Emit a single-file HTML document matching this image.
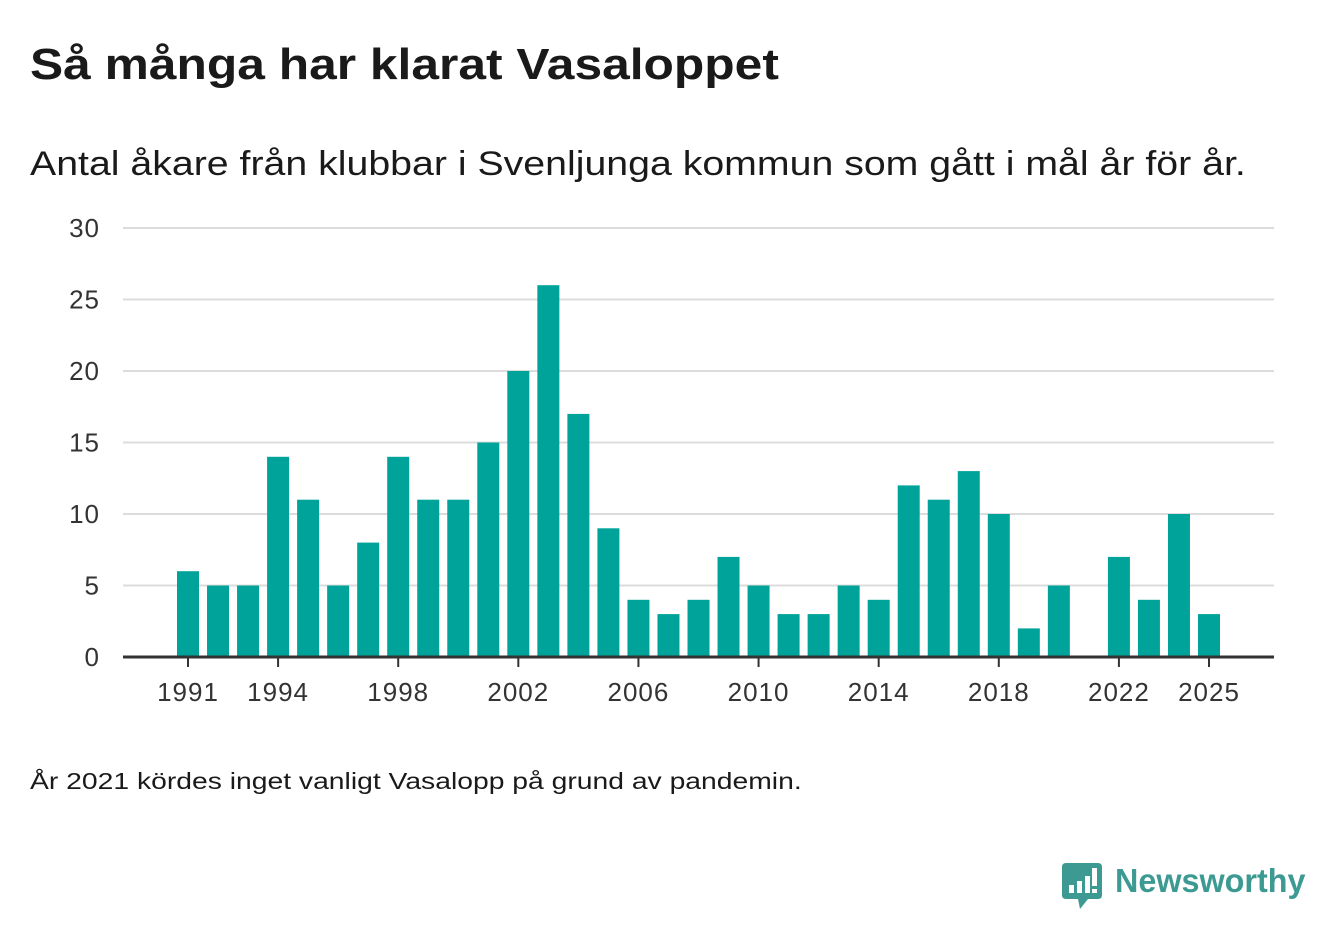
<!DOCTYPE html>
<html><head><meta charset="utf-8"><style>
body{margin:0;background:#fff;font-family:"Liberation Sans","DejaVu Sans",sans-serif;}
#wrap{position:relative;width:1340px;height:940px;overflow:hidden;}
.t{position:absolute;white-space:nowrap;color:#1a1a1a;transform-origin:0 0;}
</style></head><body><div id="wrap">
<div class="t" style="left:30px;top:40px;font-size:44px;font-weight:bold;transform:scaleX(1.13);">Så många har klarat Vasaloppet</div>
<div class="t" style="left:30px;top:145px;font-size:34px;transform:scaleX(1.155);">Antal åkare från klubbar i Svenljunga kommun som gått i mål år för år.</div>
<svg id="chart" width="1340" height="940" style="position:absolute;left:0;top:0"></svg>
<div class="t" style="left:30px;top:768px;font-size:23px;transform:scaleX(1.23);">År 2021 kördes inget vanligt Vasalopp på grund av pandemin.</div>
<svg style="position:absolute;left:1062px;top:863px" width="40" height="48">
<path d="M4 0H36Q40 0 40 4V32Q40 36 36 36H26L18 46L16 36H4Q0 36 0 32V4Q0 0 4 0Z" fill="#3d9a92"/>
<rect x="7" y="22" width="5" height="8" fill="#fff"/><rect x="15" y="18" width="5" height="12" fill="#fff"/><rect x="23" y="13" width="5" height="17" fill="#fff"/><rect x="30" y="5" width="5" height="18" fill="#fff"/><rect x="30" y="26" width="5" height="4" fill="#fff"/>
</svg>
<div class="t" style="left:1115px;top:862px;font-size:33px;font-weight:bold;color:#3d9a92;transform:scaleX(0.98);">Newsworthy</div>
</div>
<script>
const years=[1991,1992,1993,1994,1995,1996,1997,1998,1999,2000,2001,2002,2003,2004,2005,2006,2007,2008,2009,2010,2011,2012,2013,2014,2015,2016,2017,2018,2019,2020,2021,2022,2023,2024,2025];
const values=[6,5,5,14,11,5,8,14,11,11,15,20,26,17,9,4,3,4,7,5,3,3,5,4,12,11,13,10,2,5,null,7,4,10,3];
const yTicks=[0,5,10,15,20,25,30];
const xTickLabels=[1991,1994,1998,2002,2006,2010,2014,2018,2022,2025];
const svg=document.getElementById('chart');const NS='http://www.w3.org/2000/svg';
const x=y=>188+(y-1991)*(1209-188)/34;
const yS=v=>657-v*(657-228)/30;
function mk(t,a){const e=document.createElementNS(NS,t);for(const k in a)e.setAttribute(k,a[k]);svg.appendChild(e);return e;}
yTicks.forEach(v=>{
 if(v>0){const g=mk('line',{x1:123,x2:1274,y1:yS(v),y2:yS(v),stroke:'#dcdcdc','stroke-width':2});
 
 }
 const t=mk('text',{x:100,y:yS(v)+9,'text-anchor':'end','font-size':26,'letter-spacing':1,fill:'#333','font-family':'Liberation Sans, sans-serif'});t.textContent=v;
 
 
});
years.forEach((yr,i)=>{if(values[i]==null)return;
 const r=mk('rect',{x:x(yr)-11,y:yS(values[i]),width:22,height:657-yS(values[i]),fill:'#00a39a'});
 
 
});
const ax=mk('line',{x1:123,x2:1274,y1:657,y2:657,stroke:'#333','stroke-width':3});


xTickLabels.forEach(yr=>{
 const tk=mk('line',{x1:x(yr),x2:x(yr),y1:657,y2:667,stroke:'#333','stroke-width':2});
 
 
 const t=mk('text',{x:x(yr),y:701,'text-anchor':'middle','font-size':26,'letter-spacing':1,fill:'#333','font-family':'Liberation Sans, sans-serif'});t.textContent=yr;
 
 
});
</script></body></html>
